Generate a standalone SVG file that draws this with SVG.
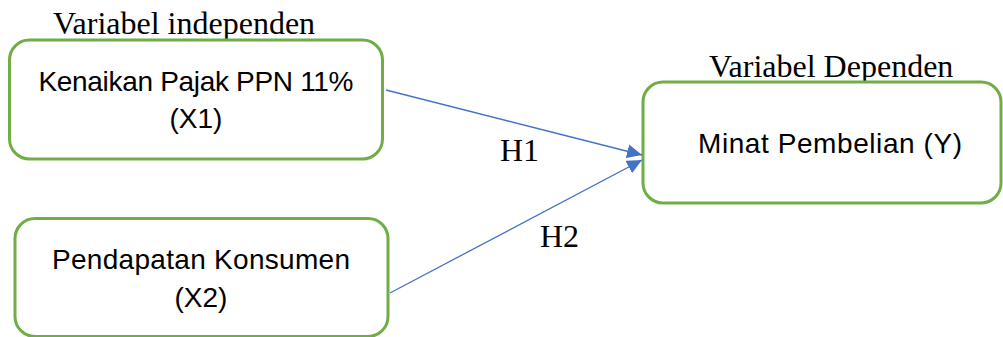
<svg xmlns="http://www.w3.org/2000/svg" width="1003" height="337" viewBox="0 0 1003 337">
<style>
.box{fill:#fff;stroke:#70AD47;stroke-width:3}
.lbl{font-family:"Liberation Sans",Arial,sans-serif;font-size:28px;fill:#000;text-anchor:middle}
.ser{font-family:"Liberation Serif","Times New Roman",serif;font-size:32px;fill:#000}
.con{stroke:#4472C4;stroke-width:1.3;fill:none}
</style>
<defs>
<marker id="arr" markerUnits="userSpaceOnUse" markerWidth="16" markerHeight="14" refX="15" refY="7" orient="auto">
<path d="M0,0 L15,7 L0,14 Z" fill="#4472C4"/>
</marker>
</defs>
<rect width="1003" height="337" fill="#fff"/>
<text class="ser" x="53" y="34">Variabel independen</text>
<text class="ser" x="709" y="77">Variabel Dependen</text>
<g id="node-x1">
<rect class="box" x="9.5" y="40" width="373" height="119" rx="20"/>
<text class="lbl" x="196" y="91" textLength="315">Kenaikan Pajak PPN 11%</text>
<text class="lbl" x="196" y="128">(X1)</text>
</g>
<g id="node-x2">
<rect class="box" x="15" y="218.5" width="373" height="118" rx="20"/>
<text class="lbl" x="201" y="269" textLength="298">Pendapatan Konsumen</text>
<text class="lbl" x="201" y="307">(X2)</text>
</g>
<g id="node-y">
<rect class="box" x="643" y="82" width="358" height="121" rx="20"/>
<text class="lbl" x="830" y="153" textLength="264">Minat Pembelian (Y)</text>
</g>
<g id="connectors">
<line class="con" x1="386" y1="90" x2="642" y2="155" marker-end="url(#arr)"/>
<line class="con" x1="390" y1="293" x2="642" y2="160" marker-end="url(#arr)"/>
<text class="ser" x="500" y="161">H1</text>
<text class="ser" x="540" y="247">H2</text>
</g>
</svg>
